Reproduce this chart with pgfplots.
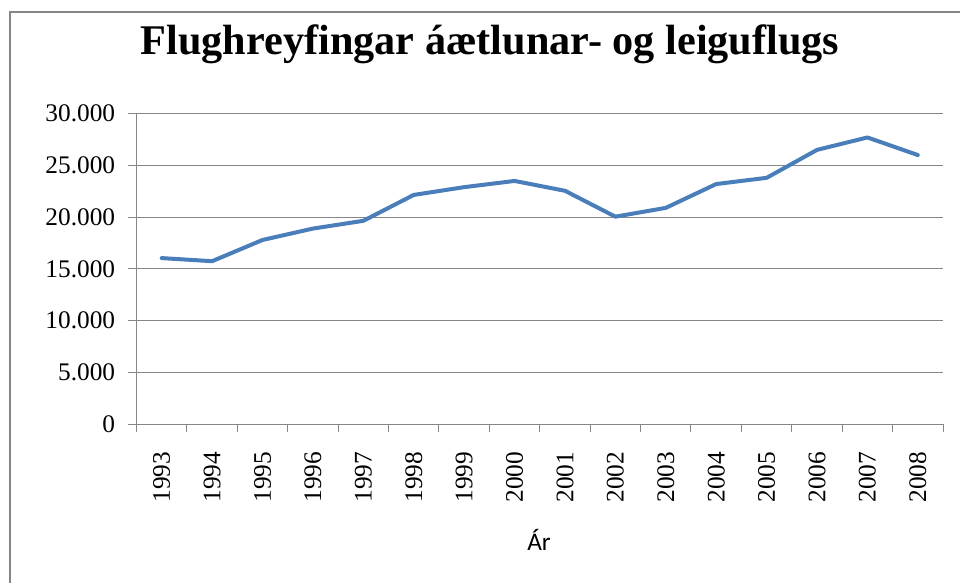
\documentclass[border=0pt]{standalone}
\usepackage{pgfplots}
\pgfplotsset{compat=1.18}
\usepackage{fontspec}
\setmainfont{Liberation Serif}
\newfontfamily\calibri{Carlito}
\definecolor{linecol}{RGB}{74,126,187}
\definecolor{gridcol}{RGB}{134,134,134}
\begin{document}
\begin{tikzpicture}[x=0.75pt,y=0.75pt]
\useasboundingbox (0,0) rectangle (960,582);
\draw[gridcol, line width=2.2pt] (10,-20) -- (10,570) -- (990,570);
\node[anchor=base, font=\bfseries\fontsize{31.7}{36}\selectfont] at (490,527) {Flughreyfingar áætlunar- og leiguflugs};
\node[anchor=base, font=\calibri\fontsize{19}{22}\selectfont] at (539,32) {Ár};
\begin{axis}[
  at={(102.375pt,118.275pt)}, anchor=south west,
  scale only axis, width=604.9pt, height=233pt,
  xmin=0.5, xmax=16.5, ymin=0, ymax=30000,
  xtick={0.5,1.5,...,16.5},
  x tick label as interval,
  xticklabels={1993,1994,1995,1996,1997,1998,1999,2000,2001,2002,2003,2004,2005,2006,2007,2008},
  ytick={0,5000,10000,15000,20000,25000,30000},
  ymajorgrids, major grid style={gridcol, line width=0.75pt},
  axis x line=bottom, axis y line=left,
  axis line style={gridcol, line width=1.1pt, -},
  tick style={gridcol, line width=0.75pt}, major tick length=6pt, tick align=outside,
  xticklabel style={rotate=90, anchor=east, font=\fontsize{19}{19}\selectfont},
  yticklabel style={font=\fontsize{19}{19}\selectfont},
  xticklabel shift=11pt, yticklabel shift=6.5pt,
  yticklabel={\pgfmathprintnumber[assume math mode=true,fixed,precision=0,1000 sep={.}]{\tick}},
  scaled y ticks=false,
  clip=false,
]
\addplot[linecol, line width=3pt, line join=round, line cap=round] coordinates {
(1,16050) (2,15750) (3,17800) (4,18900) (5,19650) (6,22150) (7,22900) (8,23500)
(9,22550) (10,20050) (11,20900) (12,23200) (13,23800) (14,26500) (15,27700) (16,26000)
};
\end{axis}
\end{tikzpicture}
\end{document}
